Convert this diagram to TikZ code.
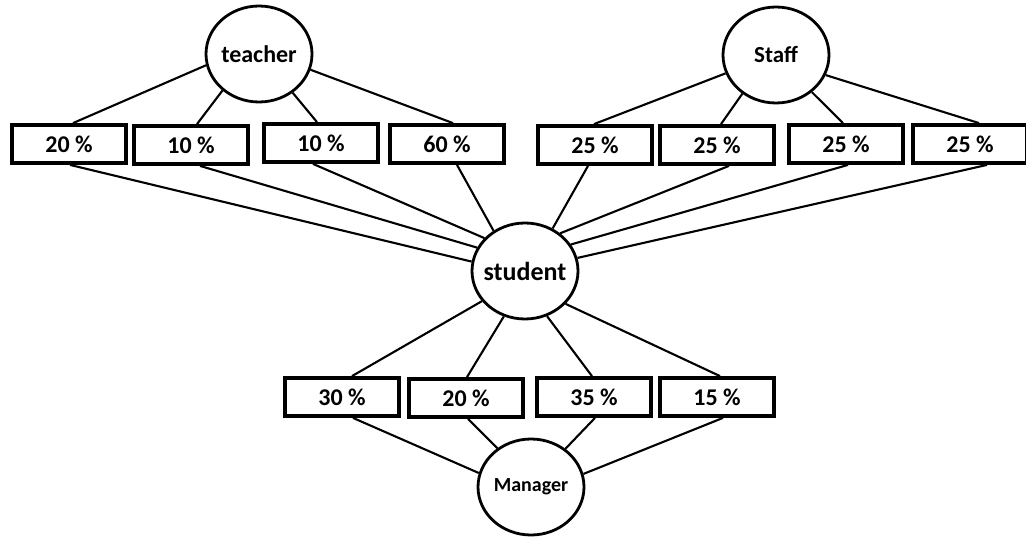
\documentclass[tikz,border=0pt]{standalone}
\usepackage{fontspec}
\setmainfont{Carlito}
\usetikzlibrary{shapes.geometric}
\begin{document}
\begin{tikzpicture}[x=1pt,y=-1pt,
  actor/.style={draw,ellipse,line width=2.8pt,minimum width=106pt,minimum height=96pt,inner sep=0pt},
  actortext/.style={font=\bfseries\fontsize{#1}{#1}\selectfont,inner sep=0pt},
  pct/.style={draw,rectangle,line width=3.8pt,minimum width=114pt,minimum height=38pt,inner sep=0pt,font=\bfseries\fontsize{24}{26}\selectfont},
  link/.style={line width=2.1pt}]
\useasboundingbox (0,0) rectangle (1026,538);
% actors (label kept separate so the ellipse keeps its size)
\node[actor,label={[actortext=24]center:teacher}] (teacher) at (259,54) {};
\node[actor,label={[actortext=23]center:Staff}] (staff) at (776,55) {};
\node[actor,label={[actortext=26]center:student}] (student) at (525,271) {};
\node[actor,label={[actortext=20]center:Manager}] (manager) at (531,487) {};
% teacher boxes
\node[pct] (t1) at (69,144) {20 \%};
\node[pct] (t2) at (191,145) {10 \%};
\node[pct] (t3) at (321,143) {10 \%};
\node[pct] (t4) at (447,144) {60 \%};
% staff boxes
\node[pct] (s1) at (595,145) {25 \%};
\node[pct] (s2) at (717,145) {25 \%};
\node[pct] (s3) at (846,144) {25 \%};
\node[pct] (s4) at (970,144) {25 \%};
% manager boxes
\node[pct] (m1) at (342,397) {30 \%};
\node[pct] (m2) at (466,398) {20 \%};
\node[pct] (m3) at (594,397) {35 \%};
\node[pct] (m4) at (717,397) {15 \%};
% teacher -> boxes
\draw[link] (teacher.192) -- ([xshift=4pt]t1.north);
\draw[link] (teacher.225) -- ([xshift=6pt]t2.north);
\draw[link] (teacher.311) -- ([xshift=-4pt]t3.north);
\draw[link] (teacher.343) -- ([xshift=6pt]t4.north);
% staff -> boxes
\draw[link] (staff.200) -- ([xshift=-1pt]s1.north);
\draw[link] (staff.229) -- ([xshift=4pt]s2.north);
\draw[link] (staff.314) -- ([xshift=-3pt]s3.north);
\draw[link] (staff.338) -- ([xshift=9pt]s4.north);
% boxes -> student
\draw[link] ([xshift=1pt]t1.south) -- (student.170);
\draw[link] ([xshift=9pt]t2.south) -- (student.154);
\draw[link] ([xshift=-8pt]t3.south) -- (student.141);
\draw[link] ([xshift=10pt]t4.south) -- (student.128);
\draw[link] ([xshift=-7pt]s1.south) -- (student.57);
\draw[link] ([xshift=12pt]s2.south) -- (student.47);
\draw[link] ([xshift=2pt]s3.south) -- (student.30);
\draw[link] ([xshift=17pt]s4.south) -- (student.14);
% student -> manager boxes
\draw[link] (student.215) -- ([xshift=10pt]m1.north);
\draw[link] (student.245) -- ([xshift=1pt]m2.north);
\draw[link] (student.296) -- ([xshift=-2pt]m3.north);
\draw[link] (student.321) -- ([xshift=3pt]m4.north);
% manager boxes -> manager
\draw[link] ([xshift=11pt]m1.south) -- (manager.165);
\draw[link] ([xshift=2pt]m2.south) -- (manager.131);
\draw[link] ([xshift=1pt]m3.south) -- (manager.48);
\draw[link] ([xshift=6pt]m4.south) -- (manager.14);
\end{tikzpicture}
\end{document}
